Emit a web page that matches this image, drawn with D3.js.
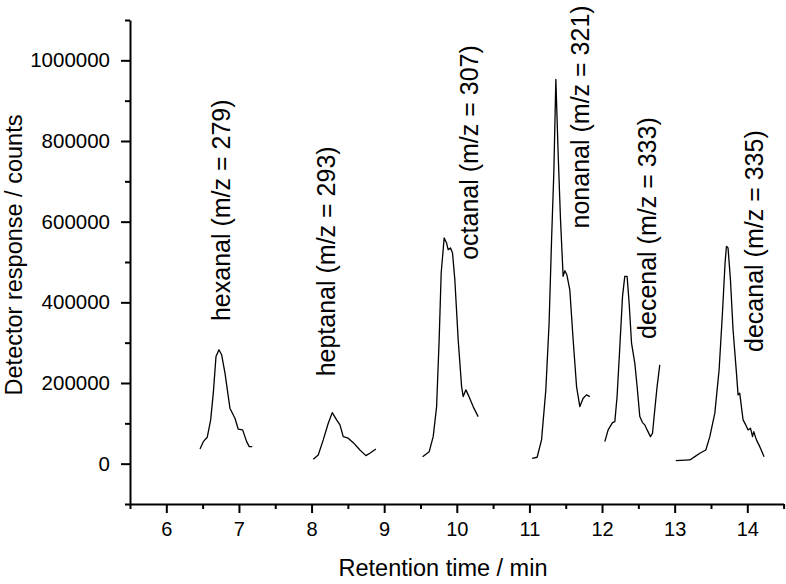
<!DOCTYPE html>
<html>
<head>
<meta charset="utf-8">
<script src="https://cdn.jsdelivr.net/npm/d3@7"></script>
<style>
  body { margin: 0; background: #fff; }
  svg { display: block; font-family: "Liberation Sans", Arial, sans-serif; }
</style>
</head>
<body>
<svg id="chart" width="786" height="584"></svg>
<script>
// chromatogram traces, [retention time (min), counts]
const hexanal = [
  [6.464, 36500], [6.509, 54600], [6.564, 65600], [6.611, 108500], [6.647, 174800],
  [6.684, 265700], [6.725, 282300], [6.762, 269900], [6.808, 224500], [6.876, 137600],
  [6.945, 112700], [6.991, 85400], [7.051, 83700], [7.106, 54600], [7.142, 42200], [7.183, 42200]
]
const heptanal = [
  [8.023, 10900], [8.092, 21600], [8.161, 58900], [8.230, 100300], [8.285, 126600],
  [8.345, 108500], [8.391, 96100], [8.436, 67000], [8.505, 63100], [8.574, 52100],
  [8.666, 34000], [8.748, 19900], [8.803, 25800], [8.886, 36500]
]
const octanal = [
  [9.529, 17400], [9.620, 29800], [9.675, 67000], [9.722, 141500], [9.757, 307200],
  [9.785, 472800], [9.826, 559700], [9.859, 547300], [9.881, 530700], [9.914, 534900],
  [9.941, 522500], [9.973, 456200], [10.019, 307200], [10.066, 191200], [10.088, 166400],
  [10.125, 183000], [10.157, 170600], [10.225, 141500], [10.294, 116700]
]
const nonanal = [
  [11.038, 13400], [11.106, 15900], [11.167, 58900], [11.226, 183000], [11.271, 348700],
  [11.305, 555500], [11.336, 721200], [11.364, 952800], [11.395, 770900], [11.428, 605200],
  [11.464, 464400], [11.488, 478500], [11.515, 468600], [11.556, 431000], [11.602, 307200],
  [11.649, 191200], [11.694, 141500], [11.740, 162400], [11.786, 170600], [11.832, 166400]
]
const decenal = [
  [12.038, 54600], [12.084, 83700], [12.144, 101800], [12.176, 104300], [12.207, 166400],
  [12.245, 290600], [12.282, 414700], [12.313, 464400], [12.345, 464400], [12.373, 398300],
  [12.406, 299000], [12.451, 249300], [12.483, 191200], [12.520, 116700], [12.557, 101800],
  [12.589, 96100], [12.621, 83700], [12.667, 67000], [12.695, 75500], [12.726, 133400],
  [12.758, 191200], [12.795, 245100]
]
const decanal = [
  [13.016, 7500], [13.209, 9200], [13.278, 17400], [13.346, 25800], [13.429, 34000],
  [13.484, 67000], [13.553, 125200], [13.612, 232700], [13.658, 373500], [13.694, 497700],
  [13.713, 538900], [13.735, 534900], [13.768, 456200], [13.804, 332000], [13.851, 224500],
  [13.873, 170600], [13.896, 174800], [13.919, 141500], [13.942, 108500], [13.979, 96100],
  [14.011, 83700], [14.044, 87900], [14.072, 67000], [14.089, 79500], [14.126, 58900],
  [14.172, 42200], [14.231, 17400]
]

const compounds = ['hexanal', 'heptanal', 'octanal', 'nonanal', 'decenal', 'decanal']
const mz = [279, 293, 307, 321, 333, 335]
// label anchor (time, counts) for each compound label, in data units
const labelTime = [6.876, 8.322, 10.290, 11.818, 12.740, 14.220]
const labelCounts = [628300, 501600, 771500, 859700, 584100, 551800]

const xTicks = [6, 7, 8, 9, 10, 11, 12, 13, 14]
const yTicks = [0, 200000, 400000, 600000, 800000, 1000000]

const traces = [hexanal, heptanal, octanal, nonanal, decenal, decanal]

const svg = d3.select('#chart')

const x = d3.scaleLinear().domain([5.5, 14.5]).range([130, 783.6])
const y = d3.scaleLinear().domain([-100000, 1100000]).range([504, 20])

// minor ticks
const xMinor = d3.range(5.5, 14.51, 1)
const yMinor = d3.range(-100000, 1100001, 200000)

svg.append('g')
  .attr('transform', 'translate(0,504)')
  .call(d3.axisBottom(x).tickValues(xMinor).tickSize(5).tickSizeOuter(0).tickFormat(''))
  .call(g => g.select('.domain').remove())
  .selectAll('line').attr('stroke-width', 2)

svg.append('g')
  .attr('transform', 'translate(130,0)')
  .call(d3.axisLeft(y).tickValues(yMinor).tickSize(5).tickSizeOuter(0).tickFormat(''))
  .call(g => g.select('.domain').remove())
  .selectAll('line').attr('stroke-width', 2)

// X axis
const xAxis = svg.append('g')
  .attr('transform', 'translate(0,504)')
  .call(d3.axisBottom(x).tickValues(xTicks).tickSize(9).tickSizeOuter(0).tickPadding(9))
xAxis.select('.domain').attr('stroke-width', 2)
xAxis.selectAll('.tick line').attr('stroke-width', 2)
xAxis.selectAll('.tick text')
  .attr('font-size', '20px')
  .attr('font-family', '"Liberation Sans", Arial, sans-serif')
  .attr('fill', '#000')

// Y axis
const yAxis = svg.append('g')
  .attr('transform', 'translate(130,0)')
  .call(d3.axisLeft(y).tickValues(yTicks).tickSize(9).tickSizeOuter(0).tickPadding(11)
    .tickFormat(d3.format('d')))
yAxis.select('.domain').attr('stroke-width', 2)
yAxis.selectAll('.tick line').attr('stroke-width', 2)
yAxis.selectAll('.tick text')
  .attr('font-size', '20.5px')
  .attr('font-family', '"Liberation Sans", Arial, sans-serif')
  .attr('fill', '#000')

// traces
const line = d3.line()
  .x(d => x(d[0]))
  .y(d => y(d[1]))

svg.selectAll('path.trace')
  .data(traces)
  .enter()
  .append('path')
  .attr('class', 'trace')
  .attr('d', line)
  .attr('fill', 'none')
  .attr('stroke', '#000')
  .attr('stroke-width', 1.3)
  .attr('stroke-linejoin', 'round')

// compound labels
svg.selectAll('text.label')
  .data(compounds)
  .enter()
  .append('text')
  .attr('class', 'label')
  .attr('transform', (d, i) => `translate(${x(labelTime[i])},${y(labelCounts[i])}) rotate(-90)`)
  .attr('text-anchor', 'middle')
  .attr('font-size', '25px')
  .text((d, i) => `${d} (m/z = ${mz[i]})`)

// axis titles
svg.append('text')
  .attr('x', 443)
  .attr('y', 576)
  .attr('text-anchor', 'middle')
  .attr('font-size', '23.5px')
  .text('Retention time / min')

svg.append('text')
  .attr('transform', 'translate(21.5,255) rotate(-90)')
  .attr('text-anchor', 'middle')
  .attr('font-size', '23.5px')
  .text('Detector response / counts')
</script>
</body>
</html>
